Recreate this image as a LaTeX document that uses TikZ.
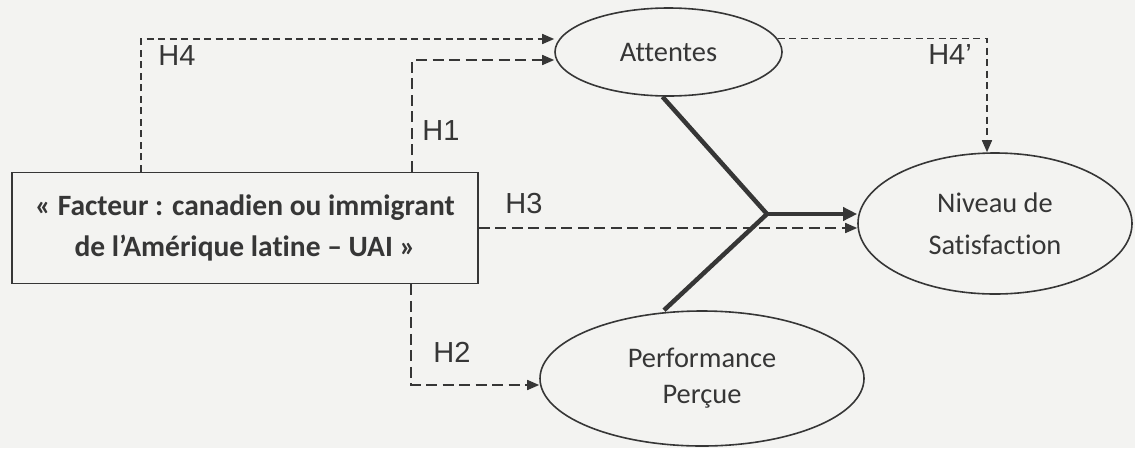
\documentclass[tikz,border=0pt]{standalone}
\usepackage{fontspec}
\setmainfont{Carlito}[Ligatures={TeX,NoCommon}]
\newfontfamily\hfont{Liberation Sans}
\usetikzlibrary{shapes.geometric,arrows.meta}
\definecolor{ink}{HTML}{363636}
\definecolor{paper}{HTML}{F3F3F1}
\begin{document}
\begin{tikzpicture}[x=1pt,y=-1pt,
  boxst/.style={draw=ink,line width=1.6pt,rectangle,minimum width=466pt,minimum height=111pt,
    inner sep=0pt,align=center,text=ink,font=\fontsize{29.5}{41}\selectfont\bfseries},
  ell/.style={draw=ink,line width=1.6pt,ellipse,inner sep=0pt,align=center,text=ink},
  lab/.style={text=ink,inner sep=0pt,font=\hfont\fontsize{29}{34}\selectfont},
  tip/.style={-{Triangle[length=12pt,width=10pt]}},
  dshort/.style={draw=ink,line width=1.6pt,dash pattern=on 7pt off 4.5pt,tip},
  dlong/.style={draw=ink,line width=1.6pt,dash pattern=on 11pt off 5.5pt,tip},
  thick line/.style={draw=ink,line width=4.5pt},
]
\fill[paper] (0,0) rectangle (1135,448);
\useasboundingbox (0,0) rectangle (1135,448);

% nodes
\node[boxst] (box) at (245,228) {« Facteur : canadien ou immigrant\\de l’Amérique latine – UAI »};
\node[ell,minimum width=227pt,minimum height=88pt,font=\fontsize{28.4}{42}\selectfont] (att) at (668.5,52) {Attentes};
\node[ell,minimum width=274pt,minimum height=141pt,font=\fontsize{28.4}{42}\selectfont] (niv) at (995,223.5) {Niveau de\\Satisfaction};
\node[ell,minimum width=324pt,minimum height=135pt,font=\fontsize{28.4}{36}\selectfont] (perf) at (702,378.5) {Performance\\Perçue};

% labels
\node[lab] (h4) at (177,56) {H4};
\node[lab] (h1) at (441,131) {H1};
\node[lab] (h3) at (524,204) {H3};
\node[lab] (h2) at (452,352) {H2};
\node[lab] (h4p) at (950,55) {H4’};

% junction
\coordinate (J) at (767,214);

% dashed connectors
\draw[dshort] ([xshift=130pt]box.north west) |- ([yshift=13pt]att.west);
\draw[dlong] ([xshift=401pt]box.north west) |- ([yshift=-8pt]att.west);
\draw[dlong] (box.east) -- (box.east -| niv.west);
\draw[dlong] ([xshift=400pt]box.south west) |- ([yshift=-6.5pt]perf.west);
\draw[dshort] (att.7.4) -| ([xshift=-8pt]niv.north);

% thick connectors
\draw[thick line] ([xshift=-6pt]att.south) -- (J);
\draw[thick line] ([xshift=-38pt]perf.north) -- (J);
\draw[thick line,-{Triangle[length=14pt,width=13pt]}] (J) -- (J -| niv.west);
\end{tikzpicture}
\end{document}
